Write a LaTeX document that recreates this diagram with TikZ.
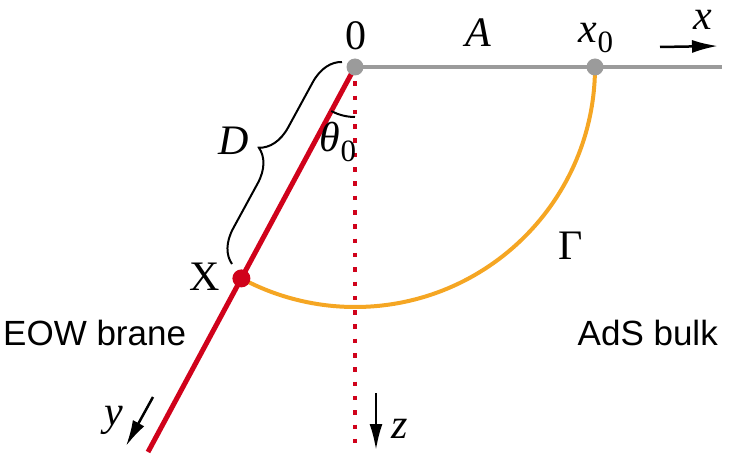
\documentclass[tikz,border=0pt]{standalone}
\usepackage{fontspec}
\setmainfont{Liberation Serif}
\newfontfamily\labelsans{Liberation Sans}
\usetikzlibrary{arrows.meta,decorations.pathreplacing,backgrounds}
\definecolor{brred}{HTML}{D0021B}
\definecolor{arcorange}{HTML}{F5A623}
\definecolor{axisgray}{HTML}{9B9B9B}
\newcommand\lowsub[1]{\raisebox{-0.22em}{\fontsize{31}{33}\selectfont\upshape #1}}
\begin{document}
\begin{tikzpicture}[x=1pt,y=-1pt,
 mathlabel/.style={font=\fontsize{42}{46}\selectfont, inner sep=0pt, anchor=base},
 sanslabel/.style={font=\labelsans\fontsize{35}{38}\selectfont, inner sep=0pt},
 dotnode/.style={circle, inner sep=0pt, minimum size=17pt},
 axisarrow/.style={line width=2.5pt, -{Latex[length=26pt,width=13pt]}},
 axisline/.style={axisgray, line width=4.5pt},
 braneline/.style={brred, line width=5pt},
 dottedred/.style={brred, line width=4.5pt, dash pattern=on 4.5pt off 9.8pt},
 arcline/.style={arcorange, line width=4pt},
 bracestyle/.style={black, line width=2pt, decorate, decoration={brace, amplitude=32pt}},
]
\useasboundingbox (0,0) rectangle (734,468);
% points
\node[dotnode, fill=axisgray] (O) at (355,67) {};
\node[dotnode, fill=axisgray] (x0) at (595,67) {};
\node[dotnode, fill=brred, minimum size=18pt] (X) at (241.4,278.4) {};
\coordinate (xend) at (722,67);
\coordinate (zend) at (355,453);
\coordinate (yend) at (148,452);
\coordinate (tha) at (355,117);
\coordinate (bB) at (232,264);
\coordinate (bT) at (342,62);
\coordinate (xa1) at (660,47);
\coordinate (xa2) at (718,46);
\coordinate (ya1) at (153,397);
\coordinate (ya2) at (126,446);
\coordinate (za1) at (376,393);
\coordinate (za2) at (376,450);
% lines under the dots
\begin{scope}[on background layer]
\draw[axisline] (O.center) -- (xend);
\draw[dottedred] (O.center) -- (zend);
\draw[braneline] (O.center) -- (yend);
\draw[arcline] (x0.center) arc[start angle=0, end angle=118.26, radius=240];
\end{scope}
% angle
\draw[black, line width=2pt] (tha) arc[start angle=90, end angle=118.26, radius=50];
% brace
\draw[bracestyle] (bB) -- (bT);
% axis arrows
\draw[axisarrow] (xa1) -- (xa2);
\draw[axisarrow] (ya1) -- (ya2);
\draw[axisarrow] (za1) -- (za2);
% labels
\node[mathlabel] (l0) at (356,50) {0};
\node[mathlabel] (lA) at (478,47) {\itshape A};
\node[mathlabel] (lx0) at (596,43) {\itshape x\lowsub{0}};
\node[mathlabel] (lx) at (703,30) {\itshape x};
\node[mathlabel] (lD) at (234,155) {\itshape D};
\node[mathlabel] (lth) at (338,152) {\itshape θ\lowsub{0}};
\node[mathlabel] (lX) at (205,290) {X};
\node[mathlabel] (lG) at (571,259) {Γ};
\node[mathlabel] (ly) at (114,425) {\itshape y};
\node[mathlabel] (lz) at (400,438) {\itshape z};
\node[sanslabel, anchor=base west] (eow) at (3,345) {EOW brane};
\node[sanslabel, anchor=base east] (ads) at (718,345) {AdS bulk};
\end{tikzpicture}
\end{document}
